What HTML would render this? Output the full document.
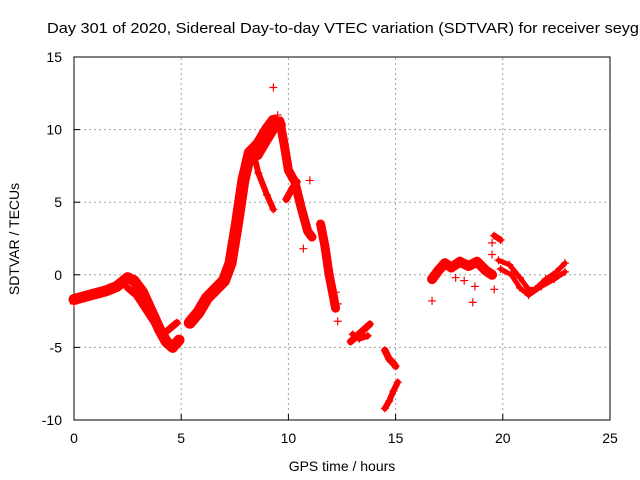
<!DOCTYPE html>
<html><head><meta charset="utf-8"><style>
html,body{margin:0;padding:0;background:#fff;}
svg{display:block;font-family:"Liberation Sans",sans-serif;}
</style></head><body>
<svg id="c" width="640" height="480" viewBox="0 0 640 480">
<text x="47" y="33" font-size="15" textLength="592" lengthAdjust="spacingAndGlyphs">Day 301 of 2020, Sidereal Day-to-day VTEC variation (SDTVAR) for receiver seyg</text>
<g id="grid"></g>
<g id="axes"></g>
<g id="marks"></g>
<text x="342" y="471" font-size="14" text-anchor="middle">GPS time / hours</text>
<text transform="translate(19,239) rotate(-90)" font-size="14" text-anchor="middle">SDTVAR / TECUs</text>
</svg>
<script>
const xTicks=[0,5,10,15,20,25];
const yTicks=[-10,-5,0,5,10,15];
const trackA=[[0,-1.7],[0.5,-1.5],[1,-1.3],[1.5,-1.1],[2,-0.8],[2.5,-0.2],[2.8,-0.4],[3.2,-1.2],[3.6,-2.5],[4,-3.8],[4.3,-4.6],[4.6,-5.0],[4.9,-4.5]];
const trackA2=[[2.5,-0.9],[2.9,-1.4],[4.1,-4.1],[4.4,-3.8],[4.8,-3.3]];
const trackB=[[5.4,-3.3],[5.8,-2.6],[6.2,-1.6],[6.6,-1.0],[7,-0.4],[7.3,0.8],[7.6,3.5],[7.9,6.5],[8.2,8.4],[8.6,9.0],[9,10],[9.3,10.6],[9.6,10.3]];
const trackC=[[8.3,8.8],[8.6,7],[9,5.5],[9.3,4.5]];
const trackC2=[[8.2,7.9],[8.6,8.2],[9,9.2],[9.5,10.4]];
const trackD=[[9.6,10.6],[9.8,9],[10,7.2],[10.3,6.4],[10.6,4.6],[10.9,3],[11.1,2.6]];
const trackD2=[[9.9,5.2],[10.2,6.0],[10.4,6.4]];
const trackE=[[11.5,3.5],[11.7,2],[11.9,0],[12.1,-1.5],[12.2,-2.3]];
const trackF=[[12.9,-4.6],[13.2,-4.2],[13.5,-3.8],[13.8,-3.4]];
const trackF2=[[13,-4.1],[13.3,-4.4],[13.7,-4.2]];
const trackG=[[14.5,-5.2],[14.7,-5.8],[14.9,-6.1],[15,-6.3]];
const trackH=[[14.5,-9.2],[14.7,-8.7],[14.9,-8],[15.1,-7.4]];
const trackI=[[16.7,-0.3],[17,0.3],[17.3,0.8],[17.6,0.5],[18,0.9],[18.4,0.6],[18.8,0.9],[19.2,0.3],[19.5,0]];
const trackJ=[[19.6,2.7],[19.9,2.4]];
const trackK=[[19.8,1.0],[20.3,0.7],[20.8,-0.2],[21.2,-1.0],[21.5,-1.0],[22,-0.3],[22.5,0.2],[22.9,0.8]];
const trackL=[[19.9,0.4],[20.4,0.0],[20.8,-0.9],[21.2,-1.4],[21.8,-0.8],[22.4,-0.3],[22.9,0.2]];
const isolated=[[9.3,12.9],[11,6.5],[10.7,1.8],[12.2,-1.2],[12.3,-2],[12.3,-3.2],[16.7,-1.8],[18.6,-1.9],[19.5,2.2],[19.5,1.4],[19.6,-1],[18.7,-0.8],[0,-2],[9.5,11.0],[17.8,-0.2],[18.2,-0.4]];
const tracks=[trackA,trackA2,trackB,trackC,trackC2,trackD,trackD2,trackE,trackF,trackF2,trackG,trackH,trackI,trackJ,trackK,trackL];
const bandW=[11,7,12,6,8,9,7,9,7,6,7,6,10,6,5,5];
const X0=74,X1=610,Y0=420,Y1=57;
const xs=v=>X0+(v-0)/25*(X1-X0);
const ys=v=>Y0-(v+10)/25*(Y0-Y1);
const NS="http://www.w3.org/2000/svg";
const grid=document.getElementById('grid'),axes=document.getElementById('axes'),marks=document.getElementById('marks');
function mk(t,a,p){const e=document.createElementNS(NS,t);for(const k in a)e.setAttribute(k,a[k]);p.appendChild(e);return e;}
xTicks.forEach(t=>{const x=xs(t);
 if(t>0&&t<25){const g=mk('line',{x1:x,y1:Y0,x2:x,y2:Y1,stroke:'#a0a0a0','stroke-dasharray':'2,3'},grid);
 
 }
 const tk=mk('line',{x1:x,y1:Y0,x2:x,y2:Y0-6,stroke:'#000'},axes);
 
 
 const l=mk('text',{x:x,y:443,'font-size':14,'text-anchor':'middle'},axes);l.textContent=t;
 
 });
yTicks.forEach(t=>{const y=ys(t);
 if(t>-10&&t<15){const g=mk('line',{x1:X0,y1:y,x2:X1,y2:y,stroke:'#a0a0a0','stroke-dasharray':'2,3'},grid);
 
 }
 const tk=mk('line',{x1:X0,y1:y,x2:X0+6,y2:y,stroke:'#000'},axes);
 
 
 const l=mk('text',{x:62,y:y+5,'font-size':14,'text-anchor':'end'},axes);l.textContent=t;
 
 });
const fr=mk('rect',{x:X0,y:Y1,width:X1-X0,height:Y0-Y1,fill:'none',stroke:'#000'},axes);


function plus(x,y){const p=mk('path',{d:`M${x-4},${y}h8M${x},${y-4}v8`,stroke:'#f00','stroke-width':1.2},marks);
 
 }
tracks.forEach((tr,i)=>{
 const pts=tr.map(p=>xs(p[0])+','+ys(p[1])).join(' ');
 const pl=mk('polyline',{points:pts,fill:'none',stroke:'#f00','stroke-width':bandW[i],'stroke-linejoin':'round','stroke-linecap':'round'},marks);
 
 
 tr.forEach(p=>plus(xs(p[0]),ys(p[1])));
});
isolated.forEach(p=>plus(xs(p[0]),ys(p[1])));
</script>
</body></html>
